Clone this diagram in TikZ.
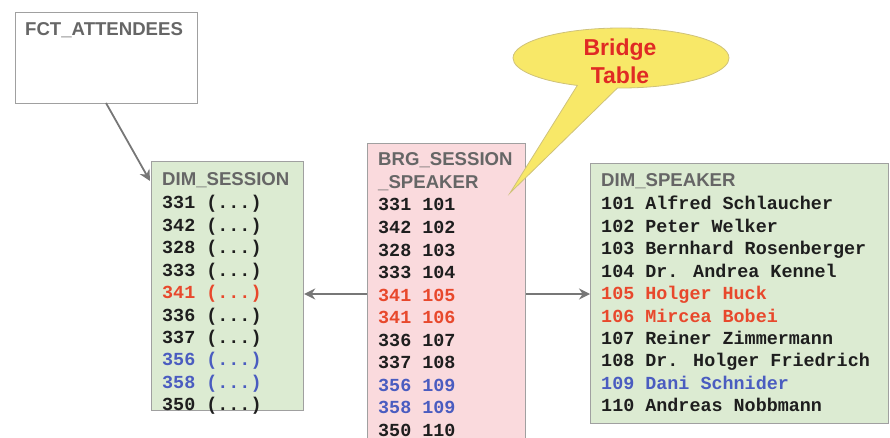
\documentclass[tikz,border=0pt]{standalone}
\usepackage{fontspec}
\setmainfont{Liberation Sans}
\newfontfamily\codefont{Liberation Mono}
\usetikzlibrary{arrows.meta,shapes.callouts}

\definecolor{boxedge}{HTML}{A0A0A0}
\definecolor{greenfill}{HTML}{DCEBD2}
\definecolor{pinkfill}{HTML}{FADADD}
\definecolor{titlegray}{HTML}{666666}
\definecolor{rowblack}{HTML}{1E1E1E}
\definecolor{rowred}{HTML}{E8482C}
\definecolor{rowblue}{HTML}{4A5CC0}
\definecolor{calloutfill}{HTML}{F8E868}
\definecolor{calloutedge}{HTML}{CFC27A}
\definecolor{calloutred}{HTML}{E02A24}
\definecolor{linkgray}{HTML}{777777}

\tikzset{
  table/.style={draw=boxedge, line width=1.2pt, anchor=north west, inner sep=0,
                minimum width=#1},
  title/.style={font=\fontsize{18.6}{22}\selectfont\bfseries, text=titlegray,
                anchor=base west, inner sep=0},
  row/.style={font=\fontsize{18.4}{22}\selectfont\codefont\bfseries,
              anchor=base west, inner sep=0, text=#1},
  row/.default=rowblack,
  link/.style={draw=linkgray, line width=1.8pt,
               -{Stealth[length=11pt,width=11pt]}},
}

\begin{document}
\begin{tikzpicture}[x=1pt,y=1pt]
\useasboundingbox (0,0) rectangle (890,-438);

% fact table
\node[table=182pt, fill=white, minimum height=91pt] (fct) at (15,-12) {};
\node[title] (fcttitle) at (25,-36) {FCT\_ATTENDEES};

% session dimension
\node[table=152pt, fill=greenfill, minimum height=249pt] (session) at (151,-161) {};
\node[title] (sestitle) at (162,-186) {DIM\_SESSION};
\foreach \k/\txt/\c in {0/331/rowblack,1/342/rowblack,2/328/rowblack,3/333/rowblack,
    4/341/rowred,5/336/rowblack,6/337/rowblack,7/356/rowblue,8/358/rowblue,9/350/rowblack}
  \node[row=\c] (ses\k) at (162,-209-22.4*\k) {\txt\ (...)};

% bridge table
\node[table=158pt, fill=pinkfill, minimum height=310pt] (bridge) at (367,-143) {};
\node[title] (brgtitleA) at (378,-166) {BRG\_SESSION};
\node[title] (brgtitleB) at (378,-189) {\_SPEAKER};
\foreach \k/\txt/\c in {0/331 101/rowblack,1/342 102/rowblack,2/328 103/rowblack,
    3/333 104/rowblack,4/341 105/rowred,5/341 106/rowred,6/336 107/rowblack,
    7/337 108/rowblack,8/356 109/rowblue,9/358 109/rowblue,10/350 110/rowblack}
  \node[row=\c] (brg\k) at (378,-211-22.55*\k) {\txt};

% speaker dimension
\node[table=298pt, fill=greenfill, minimum height=260pt] (speaker) at (590,-163) {};
\node[title] (spktitle) at (601,-187) {DIM\_SPEAKER};
\foreach \k/\txt/\c in {0/101 Alfred Schlaucher/rowblack,1/102 Peter Welker/rowblack,
    2/103 Bernhard Rosenberger/rowblack,3/104 Dr. Andrea Kennel/rowblack,
    4/105 Holger Huck/rowred,5/106 Mircea Bobei/rowred,
    6/107 Reiner Zimmermann/rowblack,7/108 Dr. Holger Friedrich/rowblack,
    8/109 Dani Schnider/rowblue,9/110 Andreas Nobbmann/rowblack}
  \node[row=\c] (spk\k) at (601,-210-22.4*\k) {\txt};

% references between tables
\coordinate (fctfoot) at (106,-103);
\coordinate (sesin) at (150,-181);
\draw[link] (fctfoot) -- (sesin);
\draw[link] (bridge.west |- 0,-294) -- (session.east |- 0,-294);
\draw[link] (bridge.east |- 0,-294) -- (speaker.west |- 0,-294);

% callout
\node[ellipse callout, fill=calloutfill, draw=calloutedge, line width=0.8pt,
      minimum width=216pt, minimum height=60pt, inner sep=0,
      callout absolute pointer={(510,-193)}, callout pointer arc=22] (callout)
  at (621,-58) {};
\node[align=center, text=calloutred, inner sep=0,
      font=\fontsize{23}{28}\selectfont\bfseries] (callouttext) at (620,-61)
  {Bridge\\Table};
\end{tikzpicture}
\end{document}
